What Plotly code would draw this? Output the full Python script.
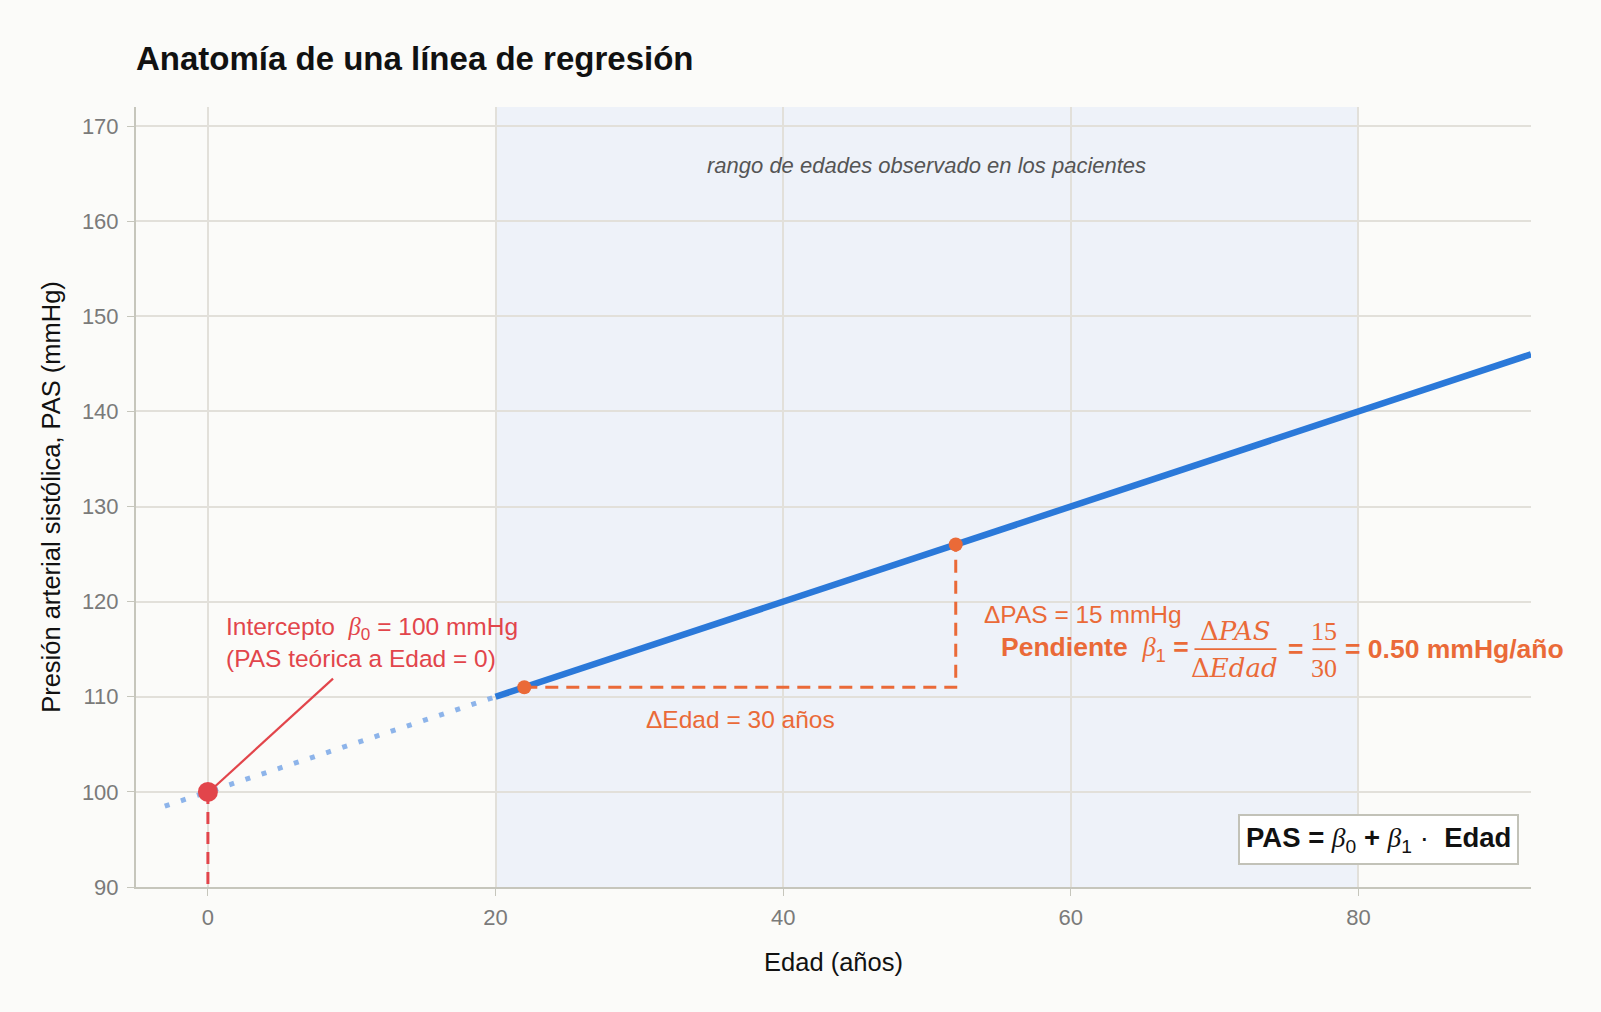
import plotly.graph_objects as go

# recta de regresion PAS = 100 + 0.5 * Edad
edad_obs = [20, 92]
pas_obs = [110, 146]
edad_extrap = [-3, 20]
pas_extrap = [98.5, 110]

# puntos usados para la pendiente
edad_puntos = [22, 52]
pas_puntos = [111, 126]

intercepto_edad = [0]
intercepto_pas = [100]

rango_edad = [20, 80]
x_ticks = [0, 20, 40, 60, 80]
y_ticks = [90, 100, 110, 120, 130, 140, 150, 160, 170]

AZUL = "#2b79d9"
AZUL_CLARO = "#8db4ea"
NARANJA = "#ea6a38"
ROJO = "#e2454b"
SANS = "Liberation Sans, Arial, sans-serif"
SERIF = "Liberation Serif, DejaVu Serif, serif"
SERIF_ANCHA = "DejaVu Serif, serif"


def mat(s):
    return "<span style='font-family:%s'><i>%s</i></span>" % (SERIF, s)


fig = go.Figure()

fig.add_vrect(x0=rango_edad[0], x1=rango_edad[1], fillcolor="#eef2f9",
              line_width=0, layer="below")

fig.add_trace(go.Scatter(x=edad_extrap, y=pas_extrap, mode="lines",
                         line=dict(color=AZUL_CLARO, width=5, dash="5px,12px"),
                         hoverinfo="skip"))
fig.add_trace(go.Scatter(x=edad_obs, y=pas_obs, mode="lines",
                         line=dict(color=AZUL, width=6.5), hoverinfo="skip"))

# triangulo de la pendiente
fig.add_trace(go.Scatter(x=[edad_puntos[0], edad_puntos[1], edad_puntos[1]],
                         y=[pas_puntos[0], pas_puntos[0], pas_puntos[1]],
                         mode="lines",
                         line=dict(color=NARANJA, width=3, dash="13px,8px"),
                         hoverinfo="skip"))
fig.add_trace(go.Scatter(x=edad_puntos, y=pas_puntos, mode="markers",
                         marker=dict(color=NARANJA, size=14), hoverinfo="skip"))

# intercepto
fig.add_trace(go.Scatter(x=[intercepto_edad[0], intercepto_edad[0]],
                         y=[intercepto_pas[0], 90], mode="lines",
                         line=dict(color=ROJO, width=3, dash="12px,8px"),
                         hoverinfo="skip"))
fig.add_trace(go.Scatter(x=intercepto_edad, y=intercepto_pas, mode="markers",
                         marker=dict(color=ROJO, size=20), hoverinfo="skip"))
fig.add_trace(go.Scatter(x=[0.3, 8.7], y=[100.3, 111.9], mode="lines",
                         line=dict(color=ROJO, width=2.2), hoverinfo="skip"))

anot = []
anot.append(dict(x=1.1, y=115.7, xanchor="left", yanchor="middle",
                 text="Intercepto  " + mat("β") + "<sub>0</sub> = 100 mmHg<br>(PAS teórica a Edad = 0)",
                 align="left", font=dict(color=ROJO, size=24.5)))
anot.append(dict(x=37, y=107.6, text="ΔEdad = 30 años",
                 font=dict(color=NARANJA, size=24.5)))
anot.append(dict(x=53.8, y=118.6, xanchor="left", text="ΔPAS = 15 mmHg",
                 font=dict(color=NARANJA, size=24.5)))
anot.append(dict(x=55.0, y=115.0, xanchor="left",
                 text="<b>Pendiente</b>  " + mat("β") + "<sub>1</sub> <b>=</b>",
                 font=dict(color=NARANJA, size=26.5)))
anot.append(dict(x=71.4, y=116.9, text="Δ<i>PAS</i>",
                 font=dict(color=NARANJA, size=26, family=SERIF_ANCHA)))
anot.append(dict(x=71.4, y=113.0, text="Δ<i>Edad</i>",
                 font=dict(color=NARANJA, size=26, family=SERIF_ANCHA)))
anot.append(dict(x=75.6, y=115.0, text="<b>=</b>",
                 font=dict(color=NARANJA, size=26.5)))
anot.append(dict(x=77.6, y=116.9, text="15",
                 font=dict(color=NARANJA, size=26, family=SERIF)))
anot.append(dict(x=77.6, y=113.0, text="30",
                 font=dict(color=NARANJA, size=26, family=SERIF)))
anot.append(dict(x=78.9, y=115.0, xanchor="left", text="<b>= 0.50 mmHg/año</b>",
                 font=dict(color=NARANJA, size=26.5)))
anot.append(dict(x=50, y=165.9, text="<i>rango de edades observado en los pacientes</i>",
                 font=dict(color="#555555", size=22)))
anot.append(dict(x=81.4, y=95.0,
                 text="<b>PAS =</b> " + mat("β") + "<sub>0</sub> <b>+</b> " + mat("β") + "<sub>1</sub> ·  <b>Edad</b>",
                 font=dict(color="#111111", size=27.5), bgcolor="#ffffff",
                 bordercolor="#c2c2b8", borderwidth=2, borderpad=6))
for a in anot:
    a.setdefault("showarrow", False)
    a.setdefault("xref", "x")
    a.setdefault("yref", "y")
    fig.add_annotation(**a)

# barras de las fracciones
fig.add_shape(type="line", x0=68.6, x1=74.3, y0=115.0, y1=115.0,
              line=dict(color=NARANJA, width=1.8))
fig.add_shape(type="line", x0=76.8, x1=78.4, y0=115.0, y1=115.0,
              line=dict(color=NARANJA, width=1.8))

fig.update_layout(
    width=1601, height=1012,
    paper_bgcolor="#fbfbf9", plot_bgcolor="#fbfbf9",
    showlegend=False,
    margin=dict(l=136, r=70, t=107, b=125),
    font=dict(family=SANS, color="#222222"),
    title=dict(text="<b>Anatomía de una línea de regresión</b>",
               x=136 / 1601, xanchor="left", y=1 - 58 / 1012, yanchor="middle",
               font=dict(size=33, color="#111111")),
)
fig.update_xaxes(range=[-5, 92], tickvals=x_ticks, showgrid=True,
                 gridcolor="#e2e0da", gridwidth=1.5, zeroline=False,
                 showline=True, linecolor="#c6c6bc", linewidth=2,
                 ticks="outside", ticklen=7, tickcolor="#c6c6bc",
                 ticklabelstandoff=3,
                 tickfont=dict(size=22, color="#7a7a7a"),
                 title=dict(text="Edad (años)", font=dict(size=25.5, color="#111111"),
                            standoff=24))
fig.update_yaxes(range=[90, 172], tickvals=y_ticks, showgrid=True,
                 gridcolor="#e2e0da", gridwidth=1.5, zeroline=False,
                 showline=True, linecolor="#c6c6bc", linewidth=2,
                 ticks="outside", ticklen=7, tickcolor="#c6c6bc",
                 ticklabelstandoff=4,
                 tickfont=dict(size=22, color="#7a7a7a"),
                 title=dict(text="Presión arterial sistólica, PAS (mmHg)",
                            font=dict(size=25.5, color="#111111"), standoff=14))

fig.write_html("out.html", config={"displayModeBar": False},
               post_script="document.body.style.margin='0';"
                           "document.body.style.overflow='hidden';")
